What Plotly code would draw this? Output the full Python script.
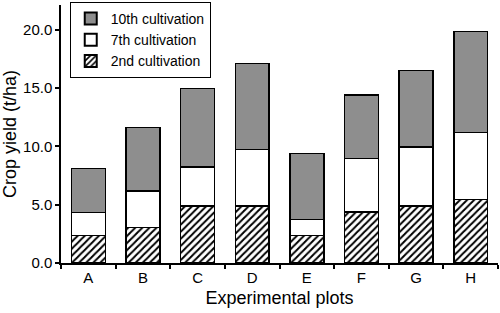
import plotly.graph_objects as go

categories = ["A", "B", "C", "D", "E", "F", "G", "H"]
second = [2.35, 3.03, 4.87, 4.87, 2.35, 4.39, 4.87, 5.44]
seventh_top = [4.33, 6.18, 8.24, 9.74, 3.71, 8.95, 9.94, 11.16]
tenth_top = [8.1, 11.6, 14.93, 17.08, 9.37, 14.38, 16.51, 19.82]

seventh = [t - s for t, s in zip(seventh_top, second)]
tenth = [t - s for t, s in zip(tenth_top, seventh_top)]

line = dict(color="black", width=1.5)
fig = go.Figure()
fig.add_trace(go.Bar(x=categories, y=second, name="2nd cultivation",
                     marker=dict(color="white", line=line,
                                 pattern=dict(shape="/", fgcolor="black", bgcolor="white",
                                              fgopacity=1, size=5, solidity=0.4))))
fig.add_trace(go.Bar(x=categories, y=seventh, name="7th cultivation",
                     marker=dict(color="white", line=line)))
fig.add_trace(go.Bar(x=categories, y=tenth, name="10th cultivation",
                     marker=dict(color="#8e8e8e", line=line)))

font = dict(family="Liberation Sans, Arial, sans-serif", size=15, color="black")
fig.update_layout(
    barmode="stack", bargap=0.38,
    width=500, height=313,
    margin=dict(l=61, r=2, t=3, b=50),
    paper_bgcolor="white", plot_bgcolor="white",
    font=font,
    showlegend=True,
    legend=dict(traceorder="reversed", x=0.02, y=1.012, xanchor="left", yanchor="top",
                bordercolor="black", borderwidth=1, bgcolor="white",
                font=dict(size=14), itemsizing="constant",
                tracegroupgap=0, itemwidth=30),
    xaxis=dict(title=dict(text="Experimental plots", standoff=7), showline=True,
               linecolor="black", linewidth=1.5, ticks="outside", tickson="boundaries",
               ticklen=4, tickcolor="black", tickwidth=1.5, showgrid=False,
               range=[-0.5, 7.5]),
    yaxis=dict(title=dict(text="Crop yield (t/ha)", standoff=8), showline=True,
               linecolor="black", linewidth=1.5, ticks="outside", ticklen=4,
               tickcolor="black", tickwidth=1.5, showgrid=False, zeroline=False,
               range=[0, 22.1], tickvals=[0, 5, 10, 15, 20], tickformat=".1f"),
)
fig.write_html("out.html", post_script="document.body.style.margin='0';",
               config={"displayModeBar": False})
